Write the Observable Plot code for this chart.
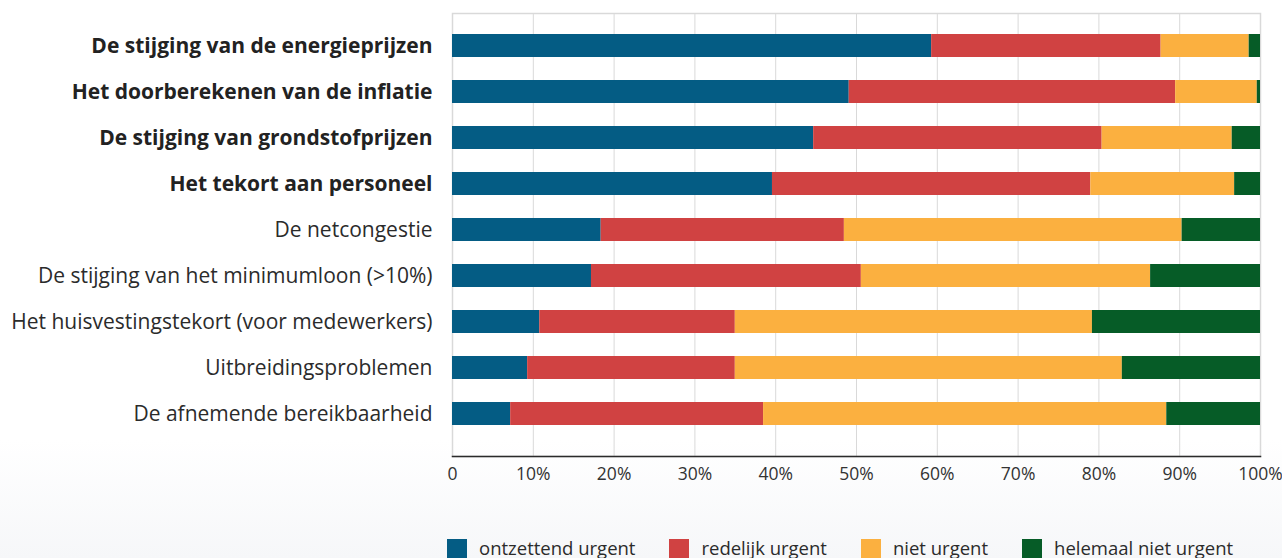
<!DOCTYPE html>
<html>
<head>
<meta charset="utf-8">
<script src="https://cdn.jsdelivr.net/npm/d3@7"></script>
<script src="https://cdn.jsdelivr.net/npm/@observablehq/plot@0.6"></script>
<style>
  html, body { margin: 0; padding: 0; }
  body {
    width: 1282px; height: 558px; overflow: hidden;
    font-family: "Open Sans", sans-serif;
    background: linear-gradient(to bottom, #ffffff 0px, #ffffff 440px, #f6f7f9 558px);
  }
  #chart svg { display: block; background: transparent; }
  #legend { position: absolute; left: 447px; top: 539px; display: flex; align-items: flex-start;
    font-size: 18.5px; line-height: 20px; color: #2b2b2b; white-space: nowrap; }
  .item { display: flex; align-items: flex-start; margin-right: 34px; }
  .sw { width: 20px; height: 20px; margin-right: 12px; }
  .item span { position: relative; top: -1px; }
</style>
</head>
<body>
<div id="chart"></div>
<div id="legend"></div>
<script>
const categories = [
  "De stijging van de energieprijzen",
  "Het doorberekenen van de inflatie",
  "De stijging van grondstofprijzen",
  "Het tekort aan personeel",
  "De netcongestie",
  "De stijging van het minimumloon (>10%)",
  "Het huisvestingstekort (voor medewerkers)",
  "Uitbreidingsproblemen",
  "De afnemende bereikbaarheid"
];
const boldCategories = categories.slice(0, 4);
const levels = ["ontzettend urgent", "redelijk urgent", "niet urgent", "helemaal niet urgent"];
const colors = ["#045c84", "#d04242", "#fbb040", "#065c27"];
const ontzettend = [59.3, 49.1, 44.7, 39.6, 18.4, 17.2, 10.8, 9.3, 7.2];
const redelijk   = [28.4, 40.4, 35.7, 39.4, 30.1, 33.4, 24.2, 25.7, 31.3];
const niet       = [10.9, 10.1, 16.1, 17.8, 41.8, 35.8, 44.2, 47.9, 49.9];
const helemaal   = [1.4, 0.4, 3.5, 3.2, 9.7, 13.6, 20.8, 17.1, 11.6];
const xTicks = [0, 10, 20, 30, 40, 50, 60, 70, 80, 90, 100];
const xTickLabels = ["0", "10%", "20%", "30%", "40%", "50%", "60%", "70%", "80%", "90%", "100%"];

const series = [ontzettend, redelijk, niet, helemaal];
const rows = [];
categories.forEach((c, i) => {
  levels.forEach((l, j) => rows.push({category: c, level: l, value: series[j][i]}));
});

const chart = Plot.plot({
  width: 1282,
  height: 500,
  marginLeft: 452,
  marginRight: 22,
  marginTop: 13,
  marginBottom: 44,
  style: {fontFamily: "'Open Sans', sans-serif", background: "transparent"},
  x: {domain: [0, 100], ticks: xTicks, axis: null},
  y: {domain: categories, paddingInner: 0.5, paddingOuter: 0.539, align: 0.4, axis: null},
  color: {domain: levels, range: colors},
  marks: [
    Plot.ruleX(xTicks, {x: d => d, stroke: "#d9d9d9", strokeWidth: 1}),
    Plot.frame({stroke: "#d9d9d9", strokeWidth: 1.5}),
    Plot.barX(rows, Plot.stackX({x: "value", y: "category", fill: "level", order: levels})),
    Plot.frame({anchor: "bottom", stroke: "#2b2b2b", strokeWidth: 1.5}),
    Plot.text(xTicks, {x: d => d, text: (d, i) => xTickLabels[i], frameAnchor: "bottom", dy: 18,
      fontSize: 17.5, fill: "#333", lineAnchor: "middle"}),
    Plot.text(categories.filter(c => !boldCategories.includes(c)), {y: d => d, text: d => d,
      frameAnchor: "left", textAnchor: "end", dx: -20, fontSize: 21, fill: "#2b2b2b"}),
    Plot.text(boldCategories, {y: d => d, text: d => d,
      frameAnchor: "left", textAnchor: "end", dx: -20, fontSize: 21, fontWeight: "bold", fill: "#222"})
  ]
});
document.getElementById("chart").appendChild(chart);

const legend = document.getElementById("legend");
levels.forEach((l, i) => {
  const item = document.createElement("div");
  item.className = "item";
  const sw = document.createElement("div");
  sw.className = "sw";
  sw.style.background = colors[i];
  const t = document.createElement("span");
  t.textContent = l;
  item.appendChild(sw);
  item.appendChild(t);
  legend.appendChild(item);
});
</script>
</body>
</html>
